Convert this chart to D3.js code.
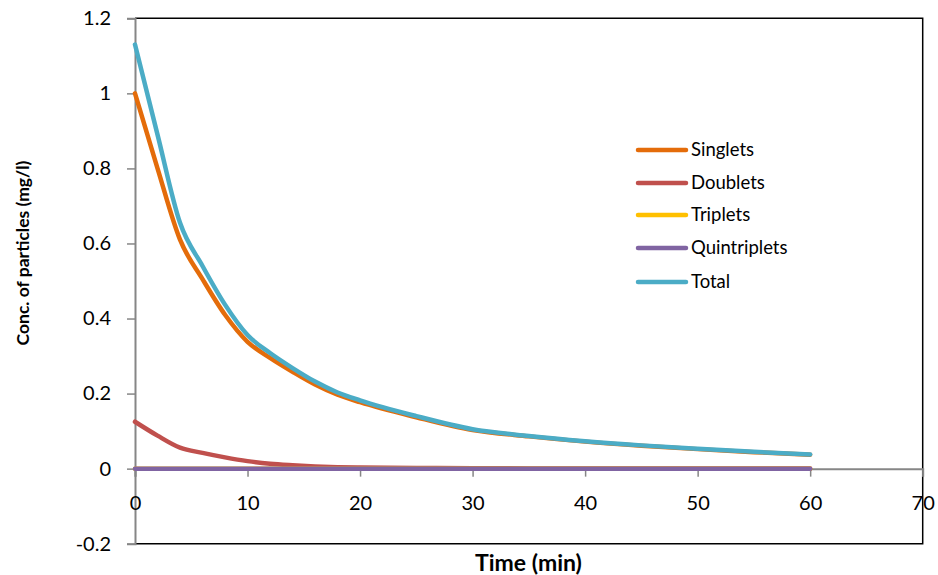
<!DOCTYPE html>
<html><head><meta charset="utf-8">
<script src="https://cdn.jsdelivr.net/npm/d3@7"></script>
<style>
body{margin:0;background:#fff;}
svg{display:block;font-family:Lato,"Open Sans",sans-serif;}
</style></head>
<body><svg id="c" width="938" height="575"></svg>
<script>
const times = [0,2,4,6,8,10,12,14,16,18,20,25,30,35,40,45,50,55,60];
const singlets = [1.0,0.80,0.61,0.505,0.41,0.338,0.295,0.258,0.224,0.197,0.177,0.137,0.103,0.086,0.072,0.061,0.052,0.044,0.037];
const doublets = [0.125,0.088,0.056,0.042,0.03,0.02,0.013,0.009,0.006,0.004,0.003,0.002,0.001,0.0006,0.0004,0.0003,0.0002,0.0001,0.0001];
const triplets = [0,0,0,0,0,0,0,0,0,0,0,0,0,0,0,0,0,0,0];
const quintriplets = [0,0,0,0,0,0,0,0,0,0,0,0,0,0,0,0,0,0,0];
const total = [1.13,0.89,0.655,0.54,0.437,0.356,0.308,0.268,0.232,0.203,0.182,0.14,0.105,0.087,0.073,0.062,0.053,0.045,0.038];
const seriesNames = ["Singlets","Doublets","Triplets","Quintriplets","Total"];
const seriesColors = ["#E46C0A","#C0504D","#FFC000","#8064A2","#4BACC6"];
const xTicks = [0,10,20,30,40,50,60,70];
const yTicks = [-0.2,0,0.2,0.4,0.6,0.8,1,1.2];

const svg = d3.select("#c");
const L=135, R=922.7, T=18.3, B=543.7;
const x = d3.scaleLinear().domain([0,70]).range([L,R]);
const y = d3.scaleLinear().domain([-0.2,1.2]).range([B,T]);

// plot border (top, right, bottom)
svg.append("path").attr("d",`M${L},${T}H${R}V${B}H${L}`).attr("fill","none").attr("stroke","#000").attr("stroke-width",1.5);

const fmtY = d => String(+d.toFixed(1));

// y axis
const yAxis = svg.append("g").attr("transform",`translate(${L},0)`)
  .call(d3.axisLeft(y).tickValues(yTicks).tickSize(8).tickPadding(16).tickFormat(fmtY));
yAxis.select(".domain").attr("stroke","#868686").attr("stroke-width",2);
yAxis.selectAll(".tick line").attr("stroke","#868686").attr("stroke-width",1.5);
yAxis.selectAll("text").attr("font-size",20).attr("fill","#000").attr("font-family","Lato");

// x axis at y=0
const xAxis = svg.append("g").attr("transform",`translate(0,${y(0)})`)
  .call(d3.axisBottom(x).tickValues(xTicks).tickSize(8).tickPadding(19).tickFormat(d=>String(d)));
xAxis.select(".domain").attr("stroke","#868686").attr("stroke-width",2);
xAxis.selectAll(".tick line").attr("stroke","#868686").attr("stroke-width",1.5);
xAxis.selectAll("text").attr("font-size",20).attr("fill","#000").attr("font-family","Lato");

const allData = [singlets,doublets,triplets,quintriplets,total];
const line = d3.line().x((d,i)=>x(times[i])).y(d=>y(d)).curve(d3.curveMonotoneX);
allData.forEach((vals,k)=>{
  svg.append("path").datum(vals).attr("d",line).attr("fill","none")
    .attr("stroke",seriesColors[k]).attr("stroke-width",4.5)
    .attr("stroke-linecap","round").attr("stroke-linejoin","round");
});

// legend
const legY = [150,183,215,248,282];
seriesNames.forEach((n,k)=>{
  const g = svg.append("g");
  g.append("line").attr("x1",638).attr("x2",686).attr("y1",legY[k]).attr("y2",legY[k])
    .attr("stroke",seriesColors[k]).attr("stroke-width",4.5).attr("stroke-linecap","round");
  g.append("text").attr("x",691).attr("y",legY[k]).attr("dy","0.35em")
    .attr("font-size",18.5).attr("fill","#000").text(n);
});

// axis titles
svg.append("text").attr("x",528.5).attr("y",571).attr("text-anchor","middle")
  .attr("font-size",23).attr("font-weight","bold").text("Time (min)");
svg.append("text").attr("transform","translate(29,253) rotate(-90)").attr("text-anchor","middle")
  .attr("font-size",17.5).attr("font-weight","bold").text("Conc. of particles (mg/l)");
</script></body></html>
